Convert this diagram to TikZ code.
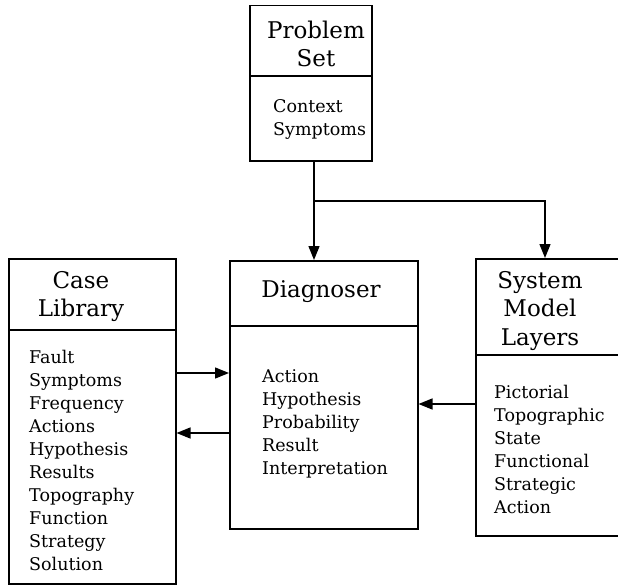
\documentclass[tikz,border=0pt]{standalone}
\usepackage{fontspec}
\setmainfont{DejaVu Serif}
\usetikzlibrary{arrows.meta}
\begin{document}
\begin{tikzpicture}[x=1pt,y=-1pt,
  box/.style={draw,line width=1.5pt,inner sep=0pt,anchor=north west},
  conn/.style={line width=1.4pt},
  arr/.style={conn,-{Triangle[length=14pt,width=11pt]}},
  ttl/.style={inner sep=0pt,anchor=base,font=\fontsize{23}{28.5}\selectfont},
  lst/.style={inner sep=0pt,anchor=base west,font=\fontsize{17.5}{23}\selectfont}]
\clip (0,0) rectangle (618,586);
\useasboundingbox (0,0) rectangle (618,586);
% boxes
\node[box,minimum width=122pt,minimum height=155pt] (prob) at (249,5) {};
\node[box,minimum width=167pt,minimum height=325pt] (case) at (8,258) {};
\node[box,minimum width=188pt,minimum height=268pt] (diag) at (229,260) {};
\node[box,minimum width=160pt,minimum height=277pt] (sys) at (475,258) {};
% dividers
\draw[conn] ([yshift=-71pt]prob.north west) -- ([yshift=-71pt]prob.north east);
\draw[conn] ([yshift=-72pt]case.north west) -- ([yshift=-72pt]case.north east);
\draw[conn] ([yshift=-66pt]diag.north west) -- ([yshift=-66pt]diag.north east);
\draw[conn] ([yshift=-97pt]sys.north west) -- ([yshift=-97pt]sys.north east);
% titles
\node[ttl] (probT) at (316,38) {\parbox[t]{120pt}{\centering Problem\\Set}};
\node[ttl] (caseT) at (81,288) {\parbox[t]{150pt}{\centering Case\\Library}};
\node[ttl] (diagT) at (321,297) {Diagnoser};
\node[ttl] (sysT) at (540,288) {\parbox[t]{130pt}{\centering System\\Model\\Layers}};
% lists
\node[lst] (probL) at (273,112) {\parbox[t]{100pt}{\raggedright Context\\Symptoms}};
\node[lst] (caseL) at (29,363) {\parbox[t]{140pt}{\raggedright Fault\\Symptoms\\Frequency\\Actions\\Hypothesis\\Results\\Topography\\Function\\Strategy\\Solution}};
\node[lst] (diagL) at (262,382) {\parbox[t]{150pt}{\raggedright Action\\Hypothesis\\Probability\\Result\\Interpretation}};
\node[lst] (sysL) at (494,398) {\parbox[t]{130pt}{\raggedright Pictorial\\Topographic\\State\\Functional\\Strategic\\Action}};
% connectors
\coordinate (branch) at (314,201);
\draw[arr] (prob.south -| branch) -- (diag.north -| branch);
\draw[arr] (branch) -| (sys.north -| 545,0);
\draw[arr] ([yshift=-115pt]case.north east) -- ([yshift=-115pt]case.north east -| diag.west);
\draw[arr] ([yshift=-175pt]case.north east -| diag.west) -- ([yshift=-175pt]case.north east);
\draw[arr] ([yshift=-146pt]sys.north west) -- ([yshift=-146pt]sys.north west -| diag.east);
\end{tikzpicture}
\end{document}
